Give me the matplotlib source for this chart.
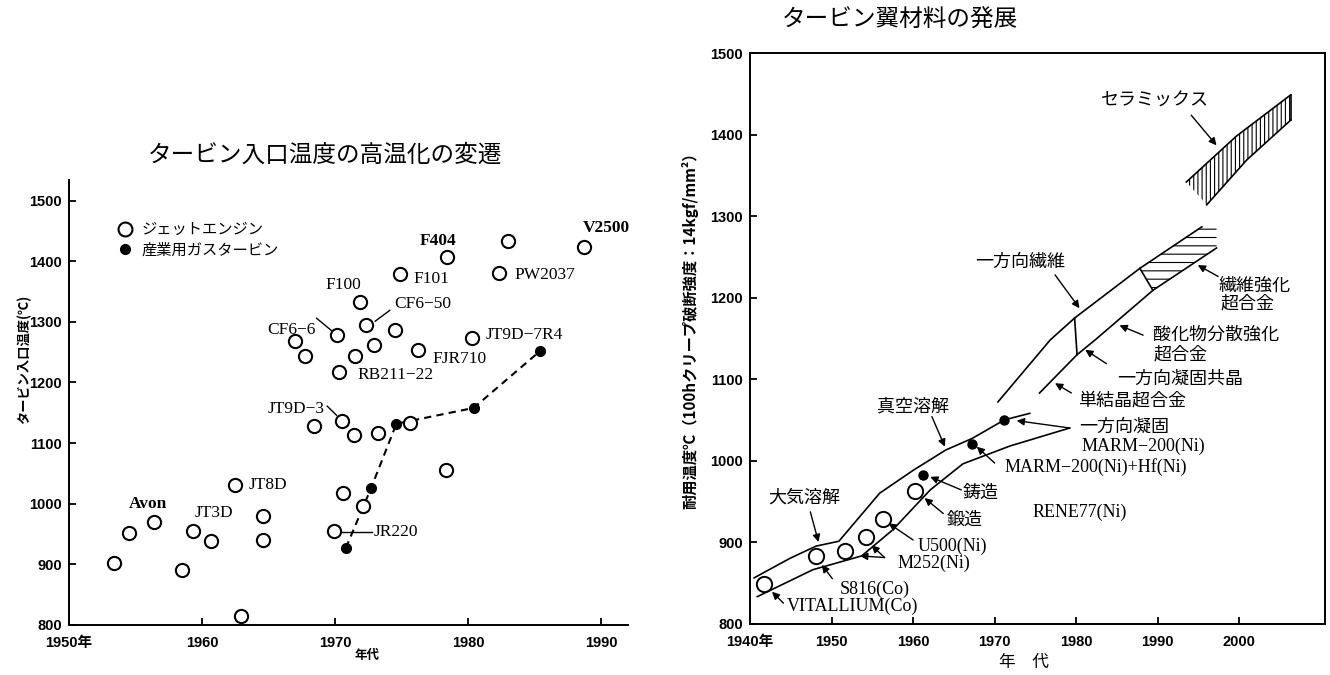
import matplotlib

matplotlib.use("Agg")
import matplotlib.pyplot as plt
from matplotlib.lines import Line2D

JP = ["Noto Sans CJK JP", "DejaVu Sans"]
SERIF = ["Liberation Serif", "Noto Sans CJK JP"]
TICK = ["Liberation Sans", "Noto Sans CJK JP"]

plt.rcParams["hatch.linewidth"] = 0.8

# ---- turbine inlet temperature by year ----
jet_year = [1953.4, 1954.5, 1956.4, 1958.5, 1959.3, 1960.7, 1962.5, 1962.9, 1964.6, 1964.6,
            1967.0, 1967.7, 1968.4, 1970.1, 1971.9, 1972.3, 1974.5, 1972.9, 1971.5, 1976.2,
            1970.3, 1974.9, 1978.4, 1983.0, 1982.3, 1988.7, 1980.3, 1975.6, 1970.5, 1971.4,
            1973.2, 1978.3, 1970.6, 1972.1, 1969.9]
jet_temp = [902, 951, 970, 891, 955, 938, 1031, 815, 980, 941,
            1269, 1243, 1129, 1279, 1332, 1295, 1287, 1262, 1244, 1254,
            1217, 1379, 1407, 1433, 1380, 1424, 1274, 1134, 1137, 1113,
            1116, 1056, 1017, 997, 955]
gas_year = [1970.8, 1972.7, 1974.6, 1980.4, 1985.4]
gas_temp = [927, 1026, 1132, 1158, 1252]

# ---- blade material development ----
air_hi_year = [1940.5, 1944.9, 1948.1, 1950.9, 1955.9, 1960.0, 1964.0, 1967.2, 1971.2, 1974.3]
air_hi_temp = [856, 880, 895, 901, 960, 988, 1013, 1027, 1050, 1058]
air_lo_year = [1940.9, 1947.7, 1953.7, 1957.5, 1962.1, 1966.1, 1971.9, 1979.2]
air_lo_temp = [833, 866, 883, 915, 964, 996, 1018, 1040]

fiber_hi_year = [1970.4, 1976.8, 1979.8, 1987.8, 1995.4]
fiber_hi_temp = [1072, 1148, 1175, 1236, 1287]
fiber_lo_year = [1975.5, 1980.1, 1982.3, 1989.4, 1997.2]
fiber_lo_temp = [1083, 1130, 1148, 1209, 1261]

ceramic_hi_year = [1993.5, 1999.6, 2006.3]
ceramic_hi_temp = [1342, 1398, 1449]
ceramic_lo_year = [1996.0, 2000.9, 2006.3]
ceramic_lo_temp = [1314, 1369, 1418]

wrought_year = [1941.7, 1948.1, 1951.7, 1954.2, 1956.3, 1960.2]
wrought_temp = [849, 883, 889, 906, 928, 963]
cast_year = [1961.2, 1967.2, 1971.2]
cast_temp = [982, 1020, 1050]


def style_ticks(ax, xticks, xlabels, yticks):
    ax.set_xticks(xticks)
    ax.set_xticklabels(xlabels)
    ax.set_yticks(yticks)
    ax.set_yticklabels([str(v) for v in yticks])
    ax.tick_params(axis="both", direction="in", length=5, width=1.3, labelsize=10.5)
    ax.tick_params(axis="x", pad=8)
    ax.tick_params(axis="y", pad=5)
    for lbl in ax.get_xticklabels() + ax.get_yticklabels():
        lbl.set_family(TICK)
        lbl.set_fontweight("bold")


def arrow(ax, head, tail):
    ax.annotate("", xy=head, xytext=tail,
                arrowprops=dict(arrowstyle="-|>", color="black", lw=1.0,
                                mutation_scale=11, shrinkA=0, shrinkB=0))


fig = plt.figure(figsize=(13.3, 6.75), dpi=100)
fig.patch.set_facecolor("white")

# ================= left panel =================
axL = fig.add_axes([69 / 1330, 1 - 625 / 675, 559 / 1330, 445 / 675])
axL.set_xlim(1950, 1992.0)
axL.set_ylim(800, 1534)
for side in ("top", "right"):
    axL.spines[side].set_visible(False)
for side in ("left", "bottom"):
    axL.spines[side].set_linewidth(1.4)
style_ticks(axL, [1950, 1960, 1970, 1980, 1990],
            ["1950年", "1960", "1970", "1980", "1990"],
            list(range(800, 1501, 100)))

axL.plot(gas_year, gas_temp, color="black", linestyle=(0, (3.5, 2.5)), linewidth=1.5, zorder=2)
axL.plot(jet_year, jet_temp, linestyle="none", marker="o", markersize=9.5,
         markerfacecolor="white", markeredgecolor="black", markeredgewidth=1.5, zorder=3)
axL.plot(gas_year, gas_temp, linestyle="none", marker="o", markersize=7,
         color="black", zorder=4)

engine_labels = [
    ("Avon", 1955.9, 1000, "center"), ("JT3D", 1960.9, 985, "center"),
    ("JT8D", 1963.5, 1031, "left"), ("F100", 1970.6, 1360, "center"),
    ("F101", 1975.9, 1371, "left"), ("F404", 1977.7, 1433, "center"),
    ("PW2037", 1983.5, 1378, "left"), ("V2500", 1988.6, 1455, "left"),
    ("CF6-50", 1974.4, 1330, "left"), ("CF6-6", 1968.5, 1286, "right"),
    ("FJR710", 1977.3, 1238, "left"), ("RB211-22", 1971.7, 1212, "left"),
    ("JT9D-7R4", 1981.3, 1279, "left"), ("JT9D-3", 1969.2, 1157, "right"),
    ("JR220", 1972.9, 953, "left"),
]
for name, x, y, ha in engine_labels:
    axL.text(x, y, name.replace("-", "−"), ha=ha, va="center", fontsize=12.5,
             family=SERIF, fontweight="bold" if name in ("Avon", "F404", "V2500") else "normal")

leaders = [((1968.6, 1306), (1969.7, 1286)), ((1973.0, 1301), (1974.1, 1319)),
           ((1969.4, 1161), (1970.1, 1146)), ((1970.2, 954), (1972.8, 954))]
for (x0, y0), (x1, y1) in leaders:
    axL.plot([x0, x1], [y0, y1], color="black", linewidth=1.0)

handles = [
    Line2D([], [], linestyle="none", marker="o", markersize=10, markerfacecolor="white",
           markeredgecolor="black", markeredgewidth=1.5),
    Line2D([], [], linestyle="none", marker="o", markersize=7, color="black"),
]
axL.legend(handles, ["ジェットエンジン", "産業用ガスタービン"], loc="upper left",
           bbox_to_anchor=(0.073, 0.925), frameon=False, handlelength=1.0,
           handletextpad=0.6, labelspacing=0.25, borderpad=0,
           prop={"family": JP, "size": 11})

axL.text(-0.08, 0.596, "タービン入口温度(℃)", transform=axL.transAxes, rotation=90,
         ha="center", va="center", fontsize=9.5, family=JP, fontweight="bold")
axL.text(1972.4, 750, "年代", ha="center", va="center", fontsize=9, family=JP,
         fontweight="bold")
fig.text(325 / 1330, 1 - 155 / 675, "タービン入口温度の高温化の変遷", ha="center", va="center",
         fontsize=17, family=JP)

# ================= right panel =================
axR = fig.add_axes([750 / 1330, 1 - 623.5 / 675, 575 / 1330, 570.2 / 675])
axR.set_xlim(1940, 2010.5)
axR.set_ylim(800, 1500)
for side in axR.spines.values():
    side.set_linewidth(1.4)
style_ticks(axR, [1940, 1950, 1960, 1970, 1980, 1990, 2000],
            ["1940年", "1950", "1960", "1970", "1980", "1990", "2000"],
            list(range(800, 1501, 100)))

line_kw = dict(color="black", linewidth=1.2)
axR.plot(air_hi_year, air_hi_temp, **line_kw)
axR.plot(air_lo_year, air_lo_temp, **line_kw)
axR.plot(fiber_hi_year, fiber_hi_temp, **line_kw)
axR.plot(fiber_lo_year, fiber_lo_temp, **line_kw)

# eutectic boundary and start of fibre-reinforced region
axR.plot([fiber_hi_year[2], fiber_lo_year[1]], [fiber_hi_temp[2], fiber_lo_temp[1]], **line_kw)
axR.plot([fiber_hi_year[3], fiber_lo_year[3]], [fiber_hi_temp[3], fiber_lo_temp[3]], **line_kw)
hatch_x = fiber_hi_year[3:] + [fiber_lo_year[-1]] * 2 + [fiber_lo_year[3]]
hatch_y = fiber_hi_temp[3:] + [fiber_hi_temp[-1], fiber_lo_temp[-1], fiber_lo_temp[3]]
axR.fill(hatch_x, hatch_y, facecolor="none", edgecolor="black", hatch="--", linewidth=0)

# ceramics band
cer_x = ceramic_hi_year + ceramic_lo_year[::-1]
cer_y = ceramic_hi_temp + ceramic_lo_temp[::-1]
axR.fill(cer_x, cer_y, facecolor="none", edgecolor="black", hatch="||||", linewidth=0)
axR.plot(ceramic_hi_year, ceramic_hi_temp, **line_kw)
axR.plot(ceramic_lo_year, ceramic_lo_temp, **line_kw)
axR.plot([ceramic_hi_year[-1], ceramic_lo_year[-1]], [ceramic_hi_temp[-1], ceramic_lo_temp[-1]],
         **line_kw)

axR.plot(wrought_year, wrought_temp, linestyle="none", marker="o", markersize=11,
         markerfacecolor="white", markeredgecolor="black", markeredgewidth=1.4, zorder=3)
axR.plot(cast_year, cast_temp, linestyle="none", marker="o", markersize=6.5,
         color="black", zorder=4)

jp_labels = [
    ("大気溶解", 1946.6, 954, "center"), ("真空溶解", 1960.0, 1066, "center"),
    ("鋳造", 1966.1, 960, "left"), ("鍛造", 1964.1, 927, "left"),
    ("一方向凝固", 1980.4, 1042, "left"), ("単結晶超合金", 1980.2, 1074, "left"),
    ("一方向凝固共晶", 1985.0, 1101, "left"), ("酸化物分散強化", 1989.4, 1154, "left"),
    ("超合金", 1989.5, 1130, "left"), ("繊維強化", 1997.4, 1215, "left"),
    ("超合金", 1997.7, 1193, "left"), ("一方向繊維", 1967.6, 1244, "left"),
    ("セラミックス", 1989.6, 1442, "center"),
]
for text, x, y, ha in jp_labels:
    axR.text(x, y, text, ha=ha, va="center", fontsize=13, family=JP)

alloy_labels = [
    ("U500(Ni)", 1960.6, 895), ("M252(Ni)", 1958.1, 874), ("S816(Co)", 1951.0, 842),
    ("VITALLIUM(Co)", 1944.5, 821), ("RENE77(Ni)", 1974.6, 937),
    ("MARM-200(Ni)+Hf(Ni)", 1971.2, 992), ("MARM-200(Ni)", 1980.6, 1017),
]
for text, x, y in alloy_labels:
    axR.text(x, y, text.replace("-", "−"), ha="left", va="center", fontsize=13, family=SERIF)

arrows = [
    ((1948.4, 900), (1947.4, 937)), ((1963.9, 1017), (1962.3, 1054)),
    ((1962.1, 980), (1965.9, 964)), ((1961.4, 954), (1963.7, 935)),
    ((1957.0, 923), (1960.0, 902.5)), ((1954.9, 896), (1956.5, 881)),
    ((1953.5, 883), (1956.5, 881)), ((1948.8, 872), (1950.1, 855)),
    ((1942.7, 839), (1944.1, 825)), ((1967.8, 1017), (1970.0, 997)),
    ((1972.7, 1049), (1979.2, 1040)), ((1977.4, 1095), (1979.4, 1083)),
    ((1981.1, 1136), (1983.7, 1119)), ((1985.3, 1166), (1988.2, 1154)),
    ((1994.9, 1240), (1997.4, 1226)), ((1980.4, 1187), (1977.4, 1228)),
    ((1997.2, 1387), (1994.1, 1424)),
]
for head, tail in arrows:
    arrow(axR, head, tail)

axR.text(-0.104, 0.52, "耐用温度℃（100hクリープ破断強度：14kgf/mm²）", transform=axR.transAxes,
         rotation=90, ha="center", va="center", fontsize=11, family=JP, fontweight="bold")
axR.text(1973.6, 752, "年　代", ha="center", va="center", fontsize=12, family=JP)
fig.text(900 / 1330, 1 - 20 / 675, "タービン翼材料の発展", ha="center", va="center",
         fontsize=17, family=JP)

fig.savefig("out.png", dpi=100, facecolor="white")
